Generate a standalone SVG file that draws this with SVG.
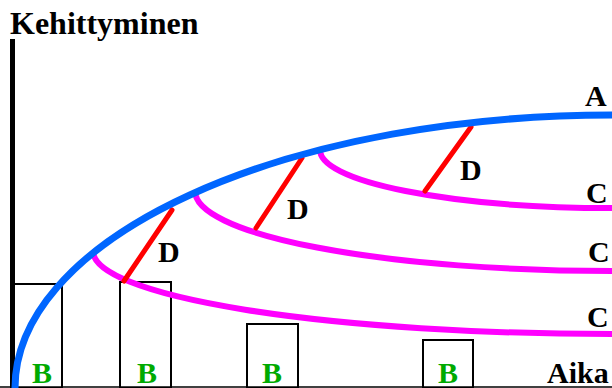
<svg xmlns="http://www.w3.org/2000/svg" width="612" height="388" viewBox="0 0 612 388">
<style>
.t{font-family:"Liberation Serif","Times New Roman",serif;font-weight:bold;font-size:30px;fill:#000}
.g{fill:#00aa00}
.box{fill:none;stroke:#000;stroke-width:2}
.c{fill:none;stroke:#ff00ff;stroke-width:6}
.d{stroke:#ff0000;stroke-width:5;stroke-linecap:round}
</style>
<rect width="612" height="388" fill="#fff"/>
<g id="axes">
<line x1="12.5" y1="39" x2="12.5" y2="388" stroke="#000" stroke-width="5"/>
<line x1="0" y1="387" x2="612" y2="387" stroke="#000" stroke-width="1.5"/>
<text class="t" x="10" y="34" style="font-size:32px">Kehittyminen</text>
<text class="t" x="547" y="383">Aika</text>
</g>
<g id="boxB1"><rect class="box" x="14" y="284" width="48" height="104"/><text class="t g" x="32" y="383">B</text></g>
<g id="boxB2"><rect class="box" x="120" y="282" width="51" height="106"/><text class="t g" x="137" y="383">B</text></g>
<g id="boxB3"><rect class="box" x="247" y="324" width="51" height="64"/><text class="t g" x="262" y="383">B</text></g>
<g id="boxB4"><rect class="box" x="423" y="340" width="50" height="48"/><text class="t g" x="438" y="383">B</text></g>
<g id="connectors">
<path class="c" d="M 93 251 A 519 83 0 0 0 612 334"/>
<path class="c" d="M 195 191 A 417 80 0 0 0 612 271"/>
<path class="c" d="M 320 150 A 292 58 0 0 0 612 208"/>
<line class="d" x1="124" y1="281" x2="172" y2="210"/>
<line class="d" x1="256" y1="228" x2="302" y2="158"/>
<line class="d" x1="425" y1="191" x2="471" y2="127"/>
<path d="M 15 388 A 597 273 0 0 1 612 115" fill="none" stroke="#0066ff" stroke-width="7"/>
</g>
<g id="labelA"><text class="t" x="585" y="106">A</text></g>
<g id="labelC"><text class="t" x="586" y="203">C</text><text class="t" x="588" y="262">C</text><text class="t" x="587" y="327">C</text></g>
<g id="labelD"><text class="t" x="158" y="262">D</text><text class="t" x="287" y="219">D</text><text class="t" x="460" y="180">D</text></g>
</svg>
